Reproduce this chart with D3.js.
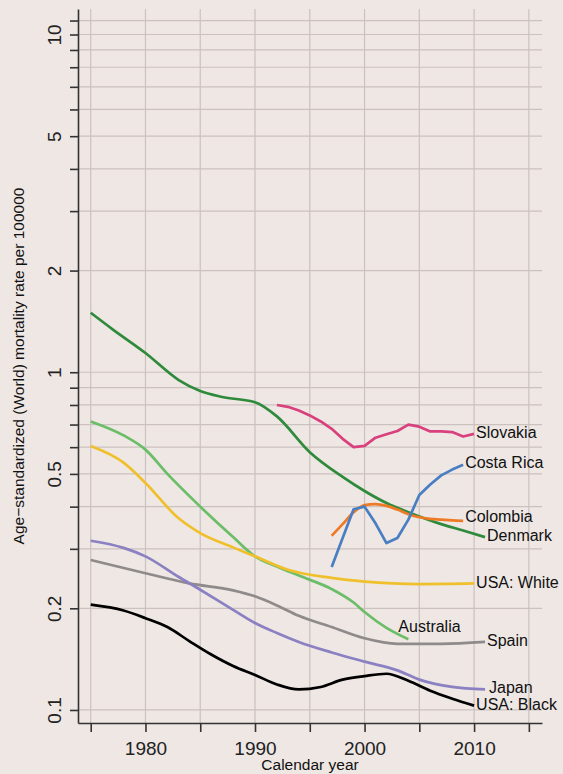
<!DOCTYPE html>
<html>
<head>
<meta charset="utf-8">
<script src="https://cdn.jsdelivr.net/npm/d3@7"></script>
<style>
  body { margin: 0; background: #eee7e4; }
  svg { display: block; font-family: "Liberation Sans", Arial, sans-serif; }
</style>
</head>
<body>
<svg class="chart" width="563" height="774"></svg>
<script>
// data
var denmarkYears = [1975, 1977, 1980, 1983, 1985, 1987, 1990, 1992, 1995, 1998, 2000, 2002, 2004, 2007, 2009, 2011];
var denmarkRates = [1.50, 1.34, 1.14, 0.95, 0.88, 0.845, 0.815, 0.74, 0.58, 0.49, 0.445, 0.41, 0.385, 0.355, 0.34, 0.325];

var slovakiaYears = [1992, 1993, 1994, 1995, 1996, 1997, 1998, 1999, 2000, 2001, 2002, 2003, 2004, 2005, 2006, 2007, 2008, 2009, 2010];
var slovakiaRates = [0.80, 0.79, 0.77, 0.745, 0.715, 0.68, 0.635, 0.60, 0.605, 0.64, 0.655, 0.67, 0.70, 0.69, 0.668, 0.668, 0.665, 0.645, 0.657];

var costaRicaYears = [1997, 1998, 1999, 2000, 2001, 2002, 2003, 2004, 2005, 2006, 2007, 2008, 2009];
var costaRicaRates = [0.265, 0.323, 0.393, 0.40, 0.357, 0.312, 0.323, 0.366, 0.433, 0.465, 0.495, 0.515, 0.532];

var colombiaYears = [1997, 1998, 1999, 2000, 2001, 2002, 2003, 2004, 2005, 2006, 2007, 2008, 2009];
var colombiaRates = [0.328, 0.355, 0.385, 0.404, 0.407, 0.402, 0.392, 0.38, 0.372, 0.368, 0.366, 0.364, 0.363];

var usaWhiteYears = [1975, 1978, 1980, 1983, 1985, 1988, 1990, 1993, 1997, 2000, 2005, 2010];
var usaWhiteRates = [0.605, 0.54, 0.47, 0.37, 0.334, 0.303, 0.285, 0.26, 0.246, 0.24, 0.236, 0.237];

var australiaYears = [1975, 1978, 1980, 1982, 1985, 1988, 1990, 1992, 1994, 1997, 1999, 2000, 2002, 2004];
var australiaRates = [0.715, 0.65, 0.59, 0.50, 0.40, 0.325, 0.285, 0.266, 0.25, 0.228, 0.208, 0.195, 0.175, 0.162];

var spainYears = [1975, 1980, 1984, 1988, 1990, 1992, 1994, 1997, 2000, 2003, 2007, 2011];
var spainRates = [0.278, 0.254, 0.237, 0.226, 0.217, 0.204, 0.19, 0.176, 0.163, 0.157, 0.157, 0.159];

var japanYears = [1975, 1978, 1980, 1983, 1985, 1988, 1990, 1992, 1994, 1997, 2000, 2003, 2005, 2008, 2011];
var japanRates = [0.317, 0.302, 0.285, 0.248, 0.227, 0.198, 0.181, 0.169, 0.159, 0.148, 0.139, 0.131, 0.123, 0.117, 0.115];

var usaBlackYears = [1975, 1978, 1980, 1982, 1984, 1986, 1988, 1990, 1992, 1994, 1996, 1998, 2000, 2002, 2004, 2006, 2008, 2010];
var usaBlackRates = [0.205, 0.197, 0.187, 0.176, 0.16, 0.146, 0.135, 0.127, 0.119, 0.115, 0.117, 0.123, 0.126, 0.128, 0.122, 0.114, 0.108, 0.103];

var yTickValues = [0.1, 0.2, 0.3, 0.4, 0.5, 0.6, 0.7, 0.8, 0.9, 1, 2, 3, 4, 5, 6, 7, 8, 9, 10, 11];
var yTickLabels = [0.1, 0.2, 0.5, 1, 2, 5, 10];
var xTickValues = [1975, 1980, 1985, 1990, 1995, 2000, 2005, 2010, 2015];
var xTickLabels = [1980, 1990, 2000, 2010];

var series = [
  {name: "Denmark", years: denmarkYears, rates: denmarkRates, color: "#2f8a3c", smooth: true},
  {name: "Australia", years: australiaYears, rates: australiaRates, color: "#6cbd67", smooth: true},
  {name: "USA: White", years: usaWhiteYears, rates: usaWhiteRates, color: "#f0c02c", smooth: true},
  {name: "Spain", years: spainYears, rates: spainRates, color: "#8f8b8a", smooth: true},
  {name: "Japan", years: japanYears, rates: japanRates, color: "#8b80c2", smooth: true},
  {name: "USA: Black", years: usaBlackYears, rates: usaBlackRates, color: "#000000", smooth: true},
  {name: "Slovakia", years: slovakiaYears, rates: slovakiaRates, color: "#d9417e", smooth: false},
  {name: "Colombia", years: colombiaYears, rates: colombiaRates, color: "#ee7a26", smooth: true},
  {name: "Costa Rica", years: costaRicaYears, rates: costaRicaRates, color: "#4a7ec2", smooth: false}
];

// label nudges (dx, dy) from the end of each line
var labelNudge = {
  "Slovakia": [2, -1], "Costa Rica": [2, -2], "Colombia": [2, -4], "Denmark": [2, -2],
  "USA: White": [2, -1], "Australia": [-10, -13], "Spain": [2, -2], "Japan": [4, -2], "USA: Black": [2, -1]
};

var chart = d3.select("svg.chart"),
    margin = {top: 9, right: 21, bottom: 51, left: 78},
    width = 563 - margin.left - margin.right,
    height = 774 - margin.top - margin.bottom;

var xScale = d3.scaleLinear().domain([1973.84, 2016.2]).range([margin.left, margin.left + width]);
var yScale = d3.scaleLog().domain([0.0915, 11.9]).range([margin.top + height, margin.top]);

// grid
chart.append("g").selectAll("line.h")
  .data(yTickValues).enter().append("line")
  .attr("x1", margin.left).attr("x2", margin.left + width)
  .attr("y1", function(d) { return yScale(d); }).attr("y2", function(d) { return yScale(d); })
  .attr("stroke", "#cbc1be").attr("stroke-width", 1.2);

chart.append("g").selectAll("line.v")
  .data(xTickValues).enter().append("line")
  .attr("x1", function(d) { return xScale(d); }).attr("x2", function(d) { return xScale(d); })
  .attr("y1", margin.top).attr("y2", margin.top + height)
  .attr("stroke", "#cbc1be").attr("stroke-width", 1.2);

// axes
var xAxis = d3.axisBottom(xScale).tickValues(xTickValues).tickSize(9).tickSizeOuter(0)
  .tickFormat(function(d) { return xTickLabels.indexOf(d) >= 0 ? d : ""; });
var yAxis = d3.axisLeft(yScale).tickValues(yTickValues).tickSize(8).tickSizeOuter(0)
  .tickFormat(function(d) { return yTickLabels.indexOf(d) >= 0 ? d : ""; });

var gx = chart.append("g").attr("id", "xAxisG")
  .attr("transform", "translate(0," + (margin.top + height) + ")")
  .call(xAxis);
gx.selectAll("text").attr("font-size", 19).attr("fill", "#222").attr("dy", "1.05em").attr("font-family", null);

var gy = chart.append("g").attr("id", "yAxisG")
  .attr("transform", "translate(" + margin.left + ",0)")
  .call(yAxis);
gy.selectAll(".tick text")
  .attr("font-size", 19).attr("fill", "#222").attr("font-family", null)
  .attr("x", null).attr("dy", null)
  .attr("text-anchor", "middle")
  .attr("transform", "translate(-17,0) rotate(-90)");

chart.selectAll(".domain, .tick line").attr("stroke", "#333").attr("stroke-width", 1.6);

// lines
series.forEach(function(s) {
  var pts = s.years.map(function(y, i) { return [y, s.rates[i]]; });
  var line = d3.line()
    .x(function(d) { return xScale(d[0]); })
    .y(function(d) { return yScale(d[1]); })
    .curve(s.smooth ? d3.curveMonotoneX : d3.curveLinear);

  chart.append("path")
    .attr("d", line(pts))
    .attr("fill", "none")
    .attr("stroke", s.color)
    .attr("stroke-width", 2.7)
    .attr("stroke-linejoin", "round");

  var last = pts[pts.length - 1], nudge = labelNudge[s.name];
  chart.append("text")
    .attr("x", xScale(last[0]) + nudge[0])
    .attr("y", yScale(last[1]) + nudge[1])
    .attr("dy", "0.35em")
    .attr("font-size", 16)
    .attr("fill", "#111")
    .text(s.name);
});

// axis titles
chart.append("text")
  .attr("x", margin.left + width / 2).attr("y", 770)
  .attr("text-anchor", "middle").attr("font-size", 15.5).attr("fill", "#111")
  .text("Calendar year");

chart.append("text")
  .attr("transform", "translate(24,366) rotate(-90)")
  .attr("text-anchor", "middle").attr("font-size", 15.5).attr("fill", "#111")
  .text("Age\u2212standardized (World) mortality rate per 100000");
</script>
</body>
</html>
